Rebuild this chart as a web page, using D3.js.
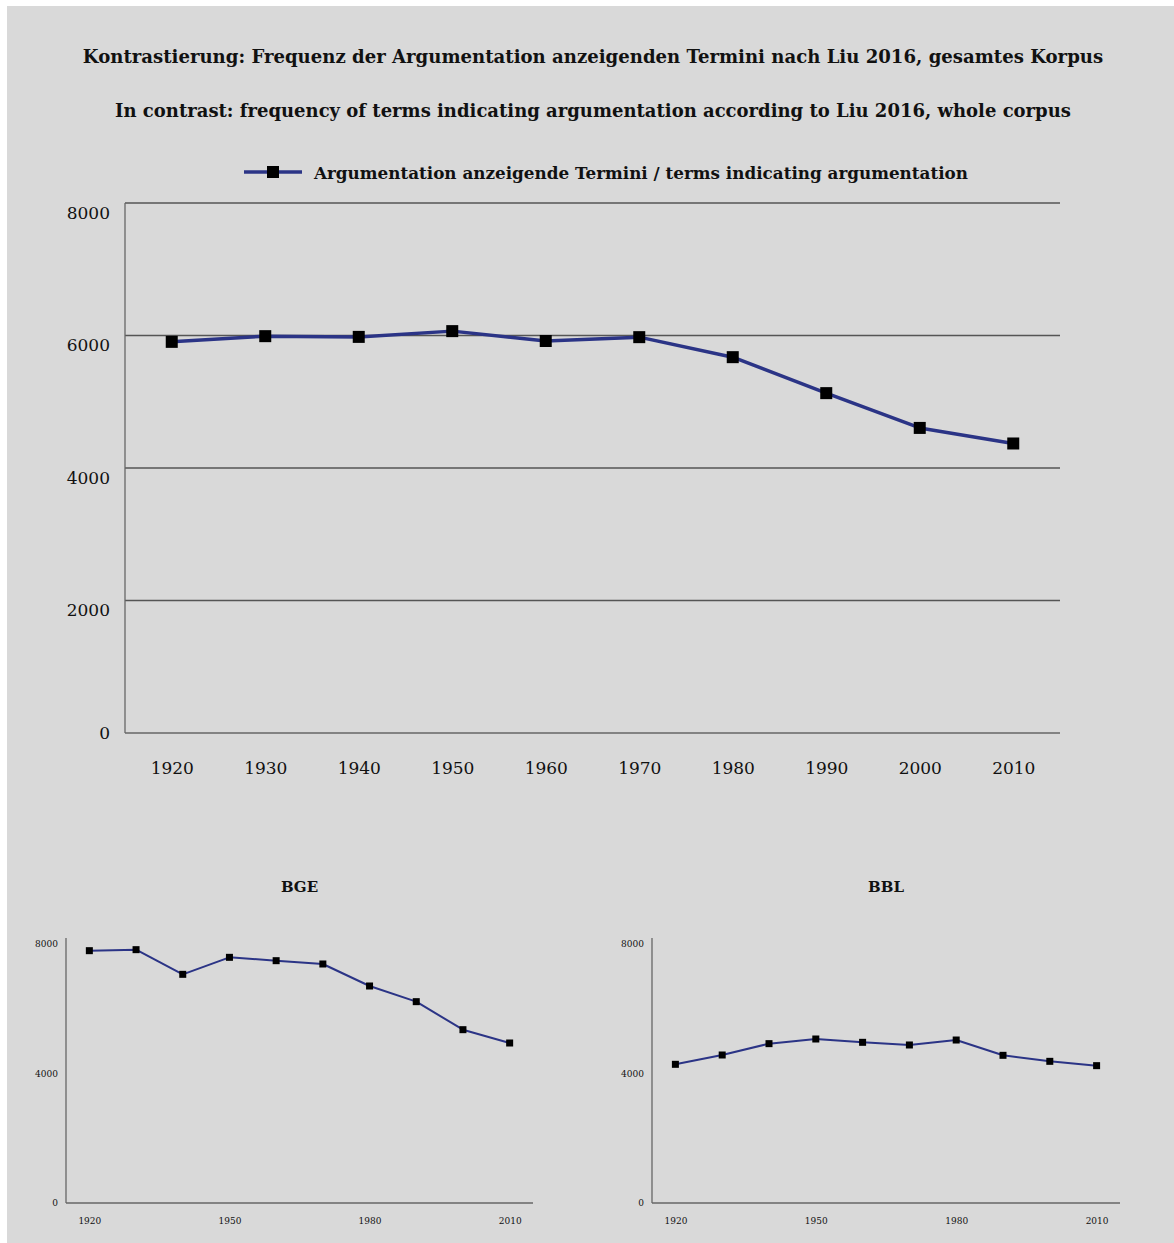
<!DOCTYPE html>
<meta charset="utf-8">
<style>
    body { margin: 0; background: #fff; }
    svg { display: block; }
    text { font-family: "DejaVu Serif", "Liberation Serif", serif; fill: #111; }
    .title { font-weight: bold; }
    .axis line, .axis path { stroke: #555; }
</style>
<svg width="1174" height="1243"></svg>
<script src="https://d3js.org/d3.v7.min.js"></script>
<script>

// data
var years = [1920, 1930, 1940, 1950, 1960, 1970, 1980, 1990, 2000, 2010];
var totalValues = [5904, 5990, 5979, 6066, 5917, 5975, 5673, 5130, 4605, 4370];
var bgeValues = [7764, 7795, 7036, 7559, 7456, 7354, 6677, 6195, 5333, 4923];
var bblValues = [4267, 4554, 4903, 5046, 4944, 4862, 5015, 4544, 4359, 4226];
var mainYTicks = [0, 2000, 4000, 6000, 8000];
var smallYTicks = [0, 4000, 8000];
var smallXTicks = [1920, 1950, 1980, 2010];

var title1 = "Kontrastierung: Frequenz der Argumentation anzeigenden Termini nach Liu 2016, gesamtes Korpus";
var title2 = "In contrast: frequency of terms indicating argumentation according to Liu 2016, whole corpus";
var legendLabel = "Argumentation anzeigende Termini / terms indicating argumentation";

var lineColor = "#2b3486";

var svg = d3.select("svg");

svg.append("rect")
    .attr("x", 7).attr("y", 6)
    .attr("width", 1167).attr("height", 1237)
    .attr("fill", "#d9d9d9");

svg.append("text").attr("class", "title")
    .attr("x", 593).attr("y", 57).attr("dy", "0.35em")
    .attr("text-anchor", "middle").style("font-size", "18.1px")
    .text(title1);

svg.append("text").attr("class", "title")
    .attr("x", 593).attr("y", 111).attr("dy", "0.35em")
    .attr("text-anchor", "middle").style("font-size", "18px")
    .text(title2);

// legend
var lg = svg.append("g").attr("transform", "translate(244,172)");
lg.append("line").attr("x1", 0).attr("x2", 58)
    .attr("stroke", lineColor).attr("stroke-width", 3.5);
lg.append("rect").attr("x", 29 - 6).attr("y", -6).attr("width", 12).attr("height", 12).attr("fill", "#000");
lg.append("text").attr("class", "title")
    .attr("x", 70).attr("y", 1).attr("dy", "0.35em").style("font-size", "16.8px")
    .text(legendLabel);

function drawPanel(p) {
    var x = d3.scalePoint().domain(years).range([p.left, p.right]).padding(0.5);
    var y = d3.scaleLinear().domain([0, 8000]).range([p.bottom, p.top]);
    var g = svg.append("g");

    if (p.grid) {
        g.selectAll(".grid")
            .data(p.yTicks.filter(function(d) { return d > 0; }))
            .enter().append("line")
            .attr("x1", p.left).attr("x2", p.right)
            .attr("y1", function(d) { return y(d); })
            .attr("y2", function(d) { return y(d); })
            .attr("stroke", "#555").attr("stroke-width", 1.3);
    }

    // axes lines
    g.append("line").attr("x1", p.left).attr("x2", p.left)
        .attr("y1", p.bottom).attr("y2", p.top - p.axisOver)
        .attr("stroke", "#666").attr("stroke-width", 1.3);
    g.append("line").attr("x1", p.left).attr("x2", p.right)
        .attr("y1", p.bottom).attr("y2", p.bottom)
        .attr("stroke", "#666").attr("stroke-width", 1.3);

    var ya = g.append("g").attr("class", "axis")
        .attr("transform", "translate(" + p.left + ",0)")
        .call(d3.axisLeft(y).tickValues(p.yTicks).tickSize(0).tickPadding(p.yPad).tickFormat(d3.format("d")));
    ya.select(".domain").remove();
    ya.selectAll("text").style("font-size", p.font + "px").style("font-family", null).attr("fill", "#222")
        .attr("y", function(d) { return d > 0 ? p.labelShift : 0; });

    var xa = g.append("g").attr("class", "axis")
        .attr("transform", "translate(0," + p.bottom + ")")
        .call(d3.axisBottom(x).tickValues(p.xTicks).tickSize(0).tickPadding(p.xPad).tickFormat(d3.format("d")));
    xa.select(".domain").remove();
    xa.selectAll("text").style("font-size", p.font + "px").style("font-family", null).attr("fill", "#222");

    var line = d3.line()
        .x(function(d, i) { return x(years[i]); })
        .y(function(d) { return y(d); });

    g.append("path").datum(p.values)
        .attr("d", line).attr("fill", "none")
        .attr("stroke", lineColor).attr("stroke-width", p.lw)
        .attr("stroke-linejoin", "round");

    g.selectAll(".pt").data(p.values).enter().append("rect")
        .attr("x", function(d, i) { return x(years[i]) - p.ms / 2; })
        .attr("y", function(d) { return y(d) - p.ms / 2; })
        .attr("width", p.ms).attr("height", p.ms)
        .attr("fill", "#000");

    if (p.title) {
        g.append("text").attr("class", "title")
            .attr("x", (p.left + p.right) / 2).attr("y", p.titleY).attr("dy", "0.35em")
            .attr("text-anchor", "middle").style("font-size", "15px")
            .text(p.title);
    }
}

drawPanel({
    left: 125, right: 1060, top: 203, bottom: 733, axisOver: 0,
    values: totalValues, yTicks: mainYTicks, xTicks: years,
    grid: true, font: 17, yPad: 15, xPad: 29, lw: 3.5, ms: 12, labelShift: 10
});

drawPanel({
    left: 66, right: 533, top: 943, bottom: 1203, axisOver: 5,
    values: bgeValues, yTicks: smallYTicks, xTicks: smallXTicks,
    grid: false, font: 9, yPad: 8, xPad: 15, lw: 2, ms: 7, labelShift: 1,
    title: "BGE", titleY: 887
});

drawPanel({
    left: 652, right: 1120, top: 943, bottom: 1203, axisOver: 5,
    values: bblValues, yTicks: smallYTicks, xTicks: smallXTicks,
    grid: false, font: 9, yPad: 8, xPad: 15, lw: 2, ms: 7, labelShift: 1,
    title: "BBL", titleY: 887
});

</script>
